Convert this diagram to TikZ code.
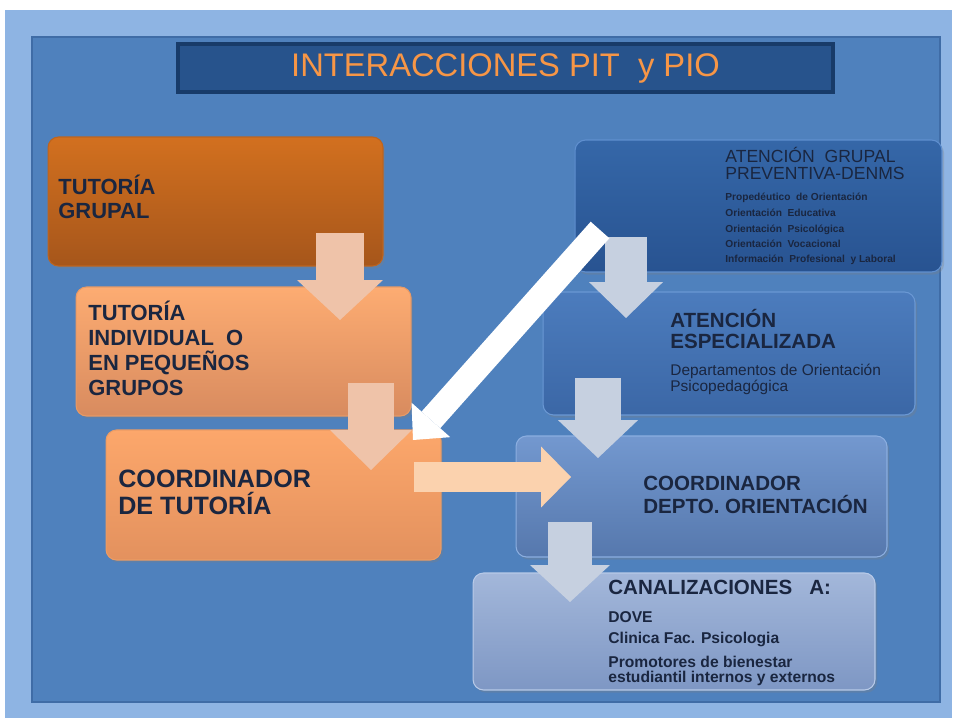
\documentclass[tikz,border=0pt]{standalone}
\usepackage{fontspec}
\setmainfont{Liberation Sans}
\usetikzlibrary{positioning, arrows.meta, shadows}

\definecolor{bgOuter}{HTML}{8EB4E3}
\definecolor{bgInner}{HTML}{4F81BD}
\definecolor{bgEdge}{HTML}{3F6CA6}
\definecolor{titleBlue}{HTML}{27538C}
\definecolor{titleEdge}{HTML}{183B69}
\definecolor{titleOrange}{HTML}{F79646}
\definecolor{ink}{HTML}{1A2640}
\definecolor{peach}{HTML}{EFC3A9}
\definecolor{peachLight}{HTML}{FBD2AE}
\definecolor{greyArrow}{HTML}{C6D0E0}

\newcommand\fnTitle{\fontsize{18.6}{20}\selectfont}
\newcommand\fnLeft{\fontsize{12.5}{13.6}\selectfont\bfseries}
\newcommand\fnCoord{\fontsize{14.3}{16}\selectfont\bfseries}
\newcommand\fnHead{\fontsize{10}{11}\selectfont}
\newcommand\fnSmall{\fontsize{5.8}{7}\selectfont\bfseries}
\newcommand\fnRight{\fontsize{11.7}{13}\selectfont\bfseries}
\newcommand\fnSub{\fontsize{8.8}{10}\selectfont}
\newcommand\fnItem{\fontsize{8.9}{10}\selectfont\bfseries}

\tikzset{
  box/.style={rounded corners=6pt, inner sep=0pt, line width=0.6pt,
    drop shadow={shadow xshift=1.2pt, shadow yshift=-1.5pt, opacity=0.3}},
  lbl/.style={inner sep=0pt, anchor=base west, text=ink},
  blockArrow/.style n args={4}{draw=#1, line width=#2,
    -{Triangle[length=#3, width=#4, line width=0pt]}}
}

\begin{document}
\begin{tikzpicture}[x=0.02cm, y=-0.02cm]
\useasboundingbox (0,0) rectangle (955,722);

% background
\fill[white] (0,0) rectangle (955,722);
\fill[bgOuter] (5,10) rectangle (952,718);
\filldraw[fill=bgInner, draw=bgEdge, line width=0.8pt] (32,37) rectangle (940,702);

% title
\node[fill=titleBlue, draw=titleEdge, line width=2.5pt, minimum width=13.1cm,
  minimum height=0.96cm, inner sep=0pt, text=titleOrange, font=\fnTitle]
  (title) at (505.5,68) {INTERACCIONES PIT\ \ y PIO};

% left column
\node[box, top color={rgb,255:red,210;green,112;blue,31}, bottom color={rgb,255:red,166;green,86;blue,27},
  draw={rgb,255:red,190;green,100;blue,30}, minimum width=6.7cm, minimum height=2.58cm] (tg) at (215.5,201.5) {};
\node[box, top color={rgb,255:red,253;green,172;blue,114}, bottom color={rgb,255:red,216;green,139;blue,95},
  draw={rgb,255:red,232;green,154;blue,102}, minimum width=6.7cm, minimum height=2.58cm] (ti) at (243.5,351.5) {};
\node[box, top color={rgb,255:red,252;green,167;blue,107}, bottom color={rgb,255:red,227;green,145;blue,94},
  draw={rgb,255:red,236;green,156;blue,100}, minimum width=6.7cm, minimum height=2.6cm] (ct) at (273.5,495) {};

\foreach \t/\yy [count=\i] in {TUTORÍA/195, GRUPAL/219}
  \node[lbl, font=\fnLeft] (tgL\i) at (58,\yy) {\t};
\foreach \t/\yy [count=\i] in {TUTORÍA/320, INDIVIDUAL\ \ O/345, EN\ PEQUEÑOS/370, GRUPOS/395}
  \node[lbl, font=\fnLeft] (tiL\i) at (88,\yy) {\t};
\foreach \t/\yy [count=\i] in {COORDINADOR/487, DE TUTORÍA/514}
  \node[lbl, font=\fnCoord] (ctL\i) at (118,\yy) {\t};

% right column
\node[box, top color={rgb,255:red,53;green,103;blue,168}, bottom color={rgb,255:red,40;green,83;blue,145},
  draw={rgb,255:red,95;green,143;blue,207}, minimum width=7.34cm, minimum height=2.64cm] (ag) at (758.5,206) {};
\node[box, top color={rgb,255:red,76;green,124;blue,189}, bottom color={rgb,255:red,59;green,103;blue,166},
  draw={rgb,255:red,106;green,152;blue,212}, minimum width=7.44cm, minimum height=2.46cm] (ae) at (729,353.5) {};
\node[box, top color={rgb,255:red,115;green,152;blue,207}, bottom color={rgb,255:red,86;green,120;blue,173},
  draw={rgb,255:red,139;green,174;blue,224}, minimum width=7.42cm, minimum height=2.42cm] (cd) at (701.5,496.5) {};
\node[box, top color={rgb,255:red,163;green,183;blue,218}, bottom color={rgb,255:red,126;green,151;blue,196},
  draw={rgb,255:red,184;green,202;blue,232}, minimum width=8.04cm, minimum height=2.34cm] (ca) at (674,631.5) {};

\foreach \t/\yy [count=\i] in {ATENCIÓN\ \ GRUPAL/163, PREVENTIVA-DENMS/180}
  \node[lbl, font=\fnHead] (agH\i) at (725,\yy) {\t};
\foreach \t/\yy [count=\i] in {Propedéutico\ \ de Orientación/201, Orientación\ \ Educativa/217,
    Orientación\ \ Psicológica/233, Orientación\ \ Vocacional/248, Información\ \ Profesional\ \ y Laboral/263}
  \node[lbl, font=\fnSmall] (agL\i) at (725,\yy) {\t};

\foreach \t/\yy [count=\i] in {ATENCIÓN/327, ESPECIALIZADA/348.5}
  \node[lbl, font=\fnRight] (aeH\i) at (670,\yy) {\t};
\foreach \t/\yy [count=\i] in {Departamentos de Orientación/375.5, Psicopedagógica/391}
  \node[lbl, font=\fnSub] (aeL\i) at (670,\yy) {\t};

\foreach \t/\yy [count=\i] in {COORDINADOR/490, DEPTO. ORIENTACIÓN/513}
  \node[lbl, font=\fnRight] (cdL\i) at (643,\yy) {\t};

\node[lbl, font=\fnRight] (caH) at (608,594) {CANALIZACIONES\ \ \ A:};
\foreach \t/\yy [count=\i] in {DOVE/622.5, Clinica Fac. Psicologia/643.5,
    Promotores de bienestar/667, estudiantil internos y externos/682}
  \node[lbl, font=\fnItem] (caL\i) at (608,\yy) {\t};

% block arrows
\coordinate (p1s) at (340,233);  \coordinate (p1e) at (340,320);
\coordinate (p2s) at (371,383);  \coordinate (p2e) at (371,470);
\coordinate (prs) at (414,477);  \coordinate (pre) at (571,477);
\coordinate (gas) at (626,237);  \coordinate (gae) at (626,318);
\coordinate (gbs) at (598,378);  \coordinate (gbe) at (598,458);
\coordinate (gcs) at (570,522);  \coordinate (gce) at (570,602);
\coordinate (wTail) at (600,230); \coordinate (wTip) at (413,440);

\draw[blockArrow={peach}{27.2pt}{22.7pt}{48.8pt}] (p1s) -- (p1e);
\draw[blockArrow={peach}{26.7pt}{22.7pt}{46.5pt}] (p2s) -- (p2e);
\draw[blockArrow={peachLight}{17pt}{17pt}{34.6pt}] (prs) -- (pre);
\draw[blockArrow={greyArrow}{24.4pt}{20.4pt}{42pt}] (gas) -- (gae);
\draw[blockArrow={greyArrow}{26pt}{21.5pt}{45.4pt}] (gbs) -- (gbe);
\draw[blockArrow={greyArrow}{25pt}{21pt}{45.4pt}] (gcs) -- (gce);
\draw[blockArrow={white}{14.2pt}{15.3pt}{29.5pt}] (wTail) -- (wTip);
\end{tikzpicture}
\end{document}
